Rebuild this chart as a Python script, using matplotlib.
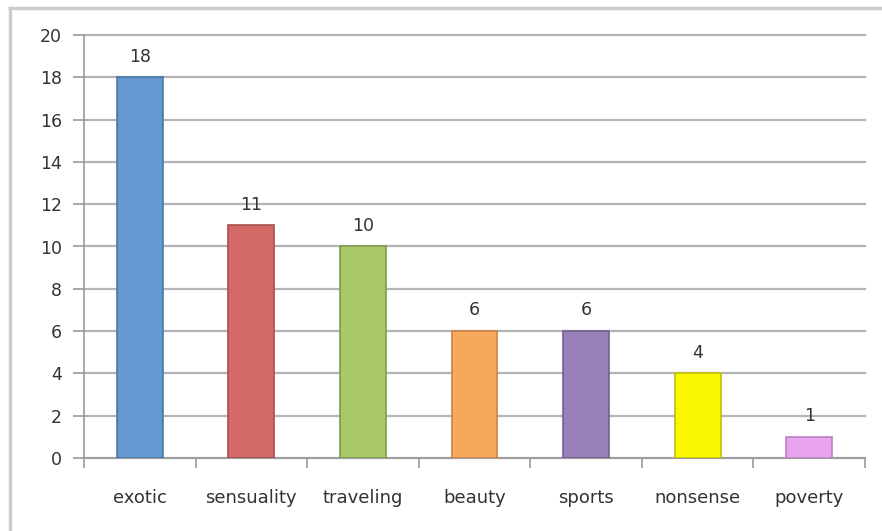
import matplotlib
matplotlib.use("Agg")
import matplotlib.pyplot as plt
from matplotlib.lines import Line2D

categories = ["exotic", "sensuality", "traveling", "beauty", "sports", "nonsense", "poverty"]
values = [18, 11, 10, 6, 6, 4, 1]
colors = ["#6399d0", "#d46a68", "#a9c86a", "#f8a85a", "#9880b8", "#fbf700", "#e8a4ee"]
edges = ["#4a78a8", "#a84f4d", "#7f9a4e", "#cc8440", "#725f92", "#c4c000", "#bb80c2"]
yticks = list(range(0, 21, 2))

plt.rcParams['font.family'] = ['DejaVu Sans']
fig = plt.figure(figsize=(8.82, 5.31), dpi=100)
ax = fig.add_axes([84/882, 1-458/531, (865-84)/882, (458-35)/531])

x = list(range(len(categories)))
ax.bar(x, values, width=0.41, color=colors, edgecolor=edges, linewidth=1.2, zorder=3)
for xi, v in zip(x, values):
    ax.text(xi, v + 0.55, str(v), ha='center', va='bottom', fontsize=12.5, color='#333333', zorder=4)

ax.set_xlim(-0.5, len(categories) - 0.5)
ax.set_ylim(0, 20)
ax.set_yticks(yticks)
ax.set_yticklabels([str(t) for t in yticks], fontsize=12.5, color='#333333')
ax.yaxis.grid(True, color='#b4b4b4', linewidth=1.6, zorder=0)
for gl in ax.get_ygridlines():
    gl.set_clip_on(False)
ax.set_axisbelow(True)

ax.set_xticks([i + 0.5 for i in range(-1, len(categories))])
ax.set_xticklabels([])
ax.set_xticks(x, minor=True)
ax.set_xticklabels(categories, minor=True, fontsize=13, color='#333333')
ax.tick_params(axis='x', which='minor', length=0, pad=22)
ax.tick_params(axis='x', which='major', length=7, color='#9a9a9a', width=1.2, direction='out')
ax.tick_params(axis='y', length=8, color='#9a9a9a', width=1.2, pad=8)

for s in ['top', 'right']:
    ax.spines[s].set_visible(False)
for s in ['left', 'bottom']:
    ax.spines[s].set_color('#9a9a9a')
    ax.spines[s].set_linewidth(1.2)

fig.add_artist(Line2D([10/882, 1.0], [1-8/531, 1-8/531], color='#cccccc', linewidth=2.5, transform=fig.transFigure))
fig.add_artist(Line2D([10/882, 10/882], [0, 1-8/531], color='#cccccc', linewidth=2.5, transform=fig.transFigure))

fig.savefig("out.png", dpi=100)
